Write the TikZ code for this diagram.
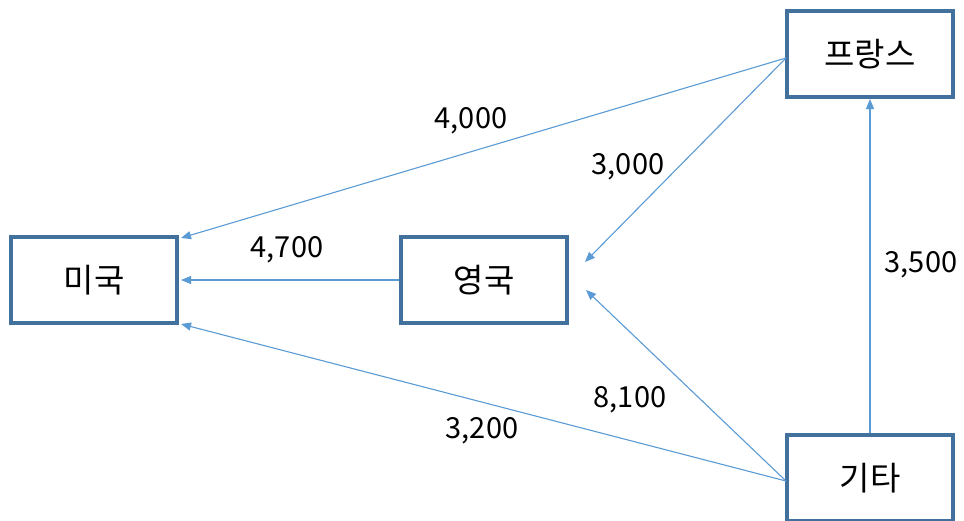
\documentclass[tikz,border=0pt]{standalone}
\usepackage{fontspec}
\setmainfont{Noto Sans CJK KR}
\usetikzlibrary{arrows.meta}
\definecolor{boxline}{HTML}{41719C}
\definecolor{flow}{HTML}{5B9BD5}
\tikzset{
  country/.style={draw=boxline, line width=4pt, fill=white, minimum width=166pt,
    minimum height=86pt, inner sep=0pt, font=\fontsize{33}{35}\selectfont},
  flowline/.style={draw=flow, line width=1.1pt, -{Triangle[length=10pt,width=8pt]}},
  amount/.style={font=\fontsize{29}{31}\selectfont, inner sep=0pt}
}
\begin{document}
\begin{tikzpicture}[x=1pt,y=-1pt]
  \useasboundingbox (0,0) rectangle (964,520);
  \clip (0,0) rectangle (964,520);
  \fill[white] (0,0) rectangle (964,520);

  % countries
  \node[country] (usa) at (94,280) {미국};
  \node[country] (uk) at (484,280) {영국};
  \node[country] (fr) at (870,54) {프랑스};
  \node[country] (etc) at (870,478) {기타};

  % free arrow ends beside the UK box
  \coordinate (ukin1) at (585,262);
  \coordinate (ukin2) at (586,290);
  \coordinate (frout) at (786,58);
  \coordinate (etcout) at (786,481);

  % flows
  \draw[flowline] (frout) -- ([xshift=2pt,yshift=-3pt]usa.north east);
  \draw[flowline] (frout) -- (ukin1);
  \draw[flowline] (uk.west) -- ([xshift=2pt]usa.east);
  \draw[flowline] (etcout) -- ([xshift=2pt,yshift=1pt]usa.south east);
  \draw[flowline] (etcout) -- (ukin2);
  \draw[flowline] (etc.north) -- (fr.south);

  % amounts
  \node[amount] (l1) at (471,121) {4,000};
  \node[amount] (l2) at (628,167) {3,000};
  \node[amount] (l3) at (287,250) {4,700};
  \node[amount] (l4) at (921,265) {3,500};
  \node[amount] (l5) at (630,400) {8,100};
  \node[amount] (l6) at (482,431) {3,200};
\end{tikzpicture}
\end{document}
